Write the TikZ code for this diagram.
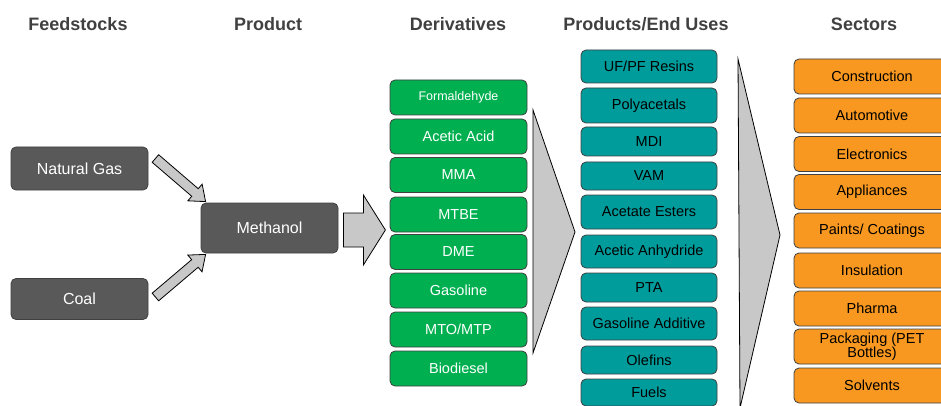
\documentclass[tikz,border=0pt]{standalone}
\usepackage{fontspec}
\setmainfont{Liberation Sans}
\usepackage{tikz}
\usetikzlibrary{calc}
\definecolor{GrisCaja}{RGB}{89,89,89}
\definecolor{VerdeDeriv}{RGB}{0,176,80}
\definecolor{TealUso}{RGB}{0,156,156}
\definecolor{NaranjaSector}{RGB}{248,152,32}
\definecolor{GrisFlecha}{RGB}{200,200,200}
\definecolor{TextoTitulo}{RGB}{64,64,64}

% block arrow: from, to, shaft half width, head half width, head length
\newcommand{\flechabloque}[5]{%
  \coordinate (fb) at ($(#2)!#5!(#1)$);
  \draw[flecha] ($(#1)!#3!90:(#2)$) -- ($(fb)!#3!-90:(#1)$) -- ($(fb)!#4!-90:(#1)$)
    -- (#2) -- ($(fb)!#4!90:(#1)$) -- ($(fb)!#3!90:(#1)$) -- ($(#1)!#3!-90:(#2)$) -- cycle;
}

\begin{document}
\begin{tikzpicture}[x=1pt,y=-1pt,
  titulo/.style={font=\bfseries\fontsize{18}{18}\selectfont,text=TextoTitulo},
  caja/.style={draw=black!75,line width=0.8pt,rounded corners=5pt,inner sep=0pt,align=center,
    font=\fontsize{14.5}{14}\selectfont},
  fuente/.style={caja,fill=GrisCaja,text=white,minimum width=137pt,font=\fontsize{16}{16}\selectfont},
  deriv/.style={caja,fill=VerdeDeriv,text=white,minimum width=137pt,minimum height=35pt},
  uso/.style={caja,fill=TealUso,text=black,minimum width=136pt},
  sector/.style={caja,fill=NaranjaSector,text=black,minimum width=156pt,minimum height=35pt},
  flecha/.style={draw=black,line width=0.8pt,fill=GrisFlecha,line join=miter},
  chevron/.style={draw=black,line width=0.8pt,fill=GrisFlecha}]
  \useasboundingbox (0,0) rectangle (941,406);
  \clip (0,0) rectangle (941,406);

  % column titles
  \node[titulo] (tfeed) at (78,24) {Feedstocks};
  \node[titulo] (tprod) at (268,24) {Product};
  \node[titulo] (tderiv) at (458,24) {Derivatives};
  \node[titulo] (tuso) at (646,24) {Products/End Uses};
  \node[titulo] (tsect) at (864,24) {Sectors};

  % feedstocks and methanol
  \node[fuente,minimum height=43pt] (ng) at (79.5,168.5) {Natural Gas};
  \node[fuente,minimum height=41pt] (coal) at (79.5,299) {Coal};
  \node[fuente,minimum height=50pt] (meth) at (269.5,228) {Methanol};

  \coordinate (ngout) at ($(ng.east)+(7,-10)$);
  \coordinate (coalout) at ($(coal.east)+(7,-2)$);
  \coordinate (methng) at ($(meth.north west)+(5,-1)$);
  \coordinate (methcoal) at ($(meth.south west)+(5,1)$);
  \coordinate (methout) at ($(meth.east)+(5,2)$);
  \coordinate (derivin) at ($(meth.east)+(47,2)$);
  \flechabloque{ngout}{methng}{5pt}{11pt}{14pt}
  \flechabloque{coalout}{methcoal}{5pt}{11pt}{14pt}
  \flechabloque{methout}{derivin}{17pt}{35pt}{22pt}

  % derivatives
  \foreach \i/\yy/\txt in {1/97.5/{\fontsize{12.5}{13}\selectfont Formaldehyde},2/136.5/Acetic Acid,
      3/175/MMA,4/214.5/MTBE,5/252/DME,6/290.5/Gasoline,7/329.5/{MTO/MTP},8/368.5/Biodiesel}
    \node[deriv] (d\i) at (458.5,\yy) {\txt};

  \draw[chevron] (533,110) -- (575,232) -- (533,353) -- cycle;

  % products / end uses
  \foreach \i/\yy/\hh/\txt in {1/66.5/33/{UF/PF Resins},2/105.5/35/Polyacetals,3/141.5/29/MDI,
      4/176/28/VAM,5/212/34/Acetate Esters,6/251.5/33/Acetic Anhydride,7/287.5/29/PTA,
      8/323.5/33/Gasoline Additive,9/360/28/Olefins,10/392.5/27/Fuels}
    \node[uso,minimum height=\hh pt] (u\i) at (649,\yy) {\txt};

  \draw[chevron] (738,59) -- (780,235) -- (740,408) -- cycle;

  % sectors
  \foreach \i/\yy/\txt in {1/76.5/Construction,2/115.5/Automotive,3/154/Electronics,
      4/192/Appliances,5/230.5/{Paints/ Coatings},6/270.5/Insulation,7/308.5/Pharma,
      8/346.5/{Packaging (PET\\Bottles)},9/385.5/Solvents}
    \node[sector] (s\i) at (872,\yy) {\txt};
\end{tikzpicture}
\end{document}
